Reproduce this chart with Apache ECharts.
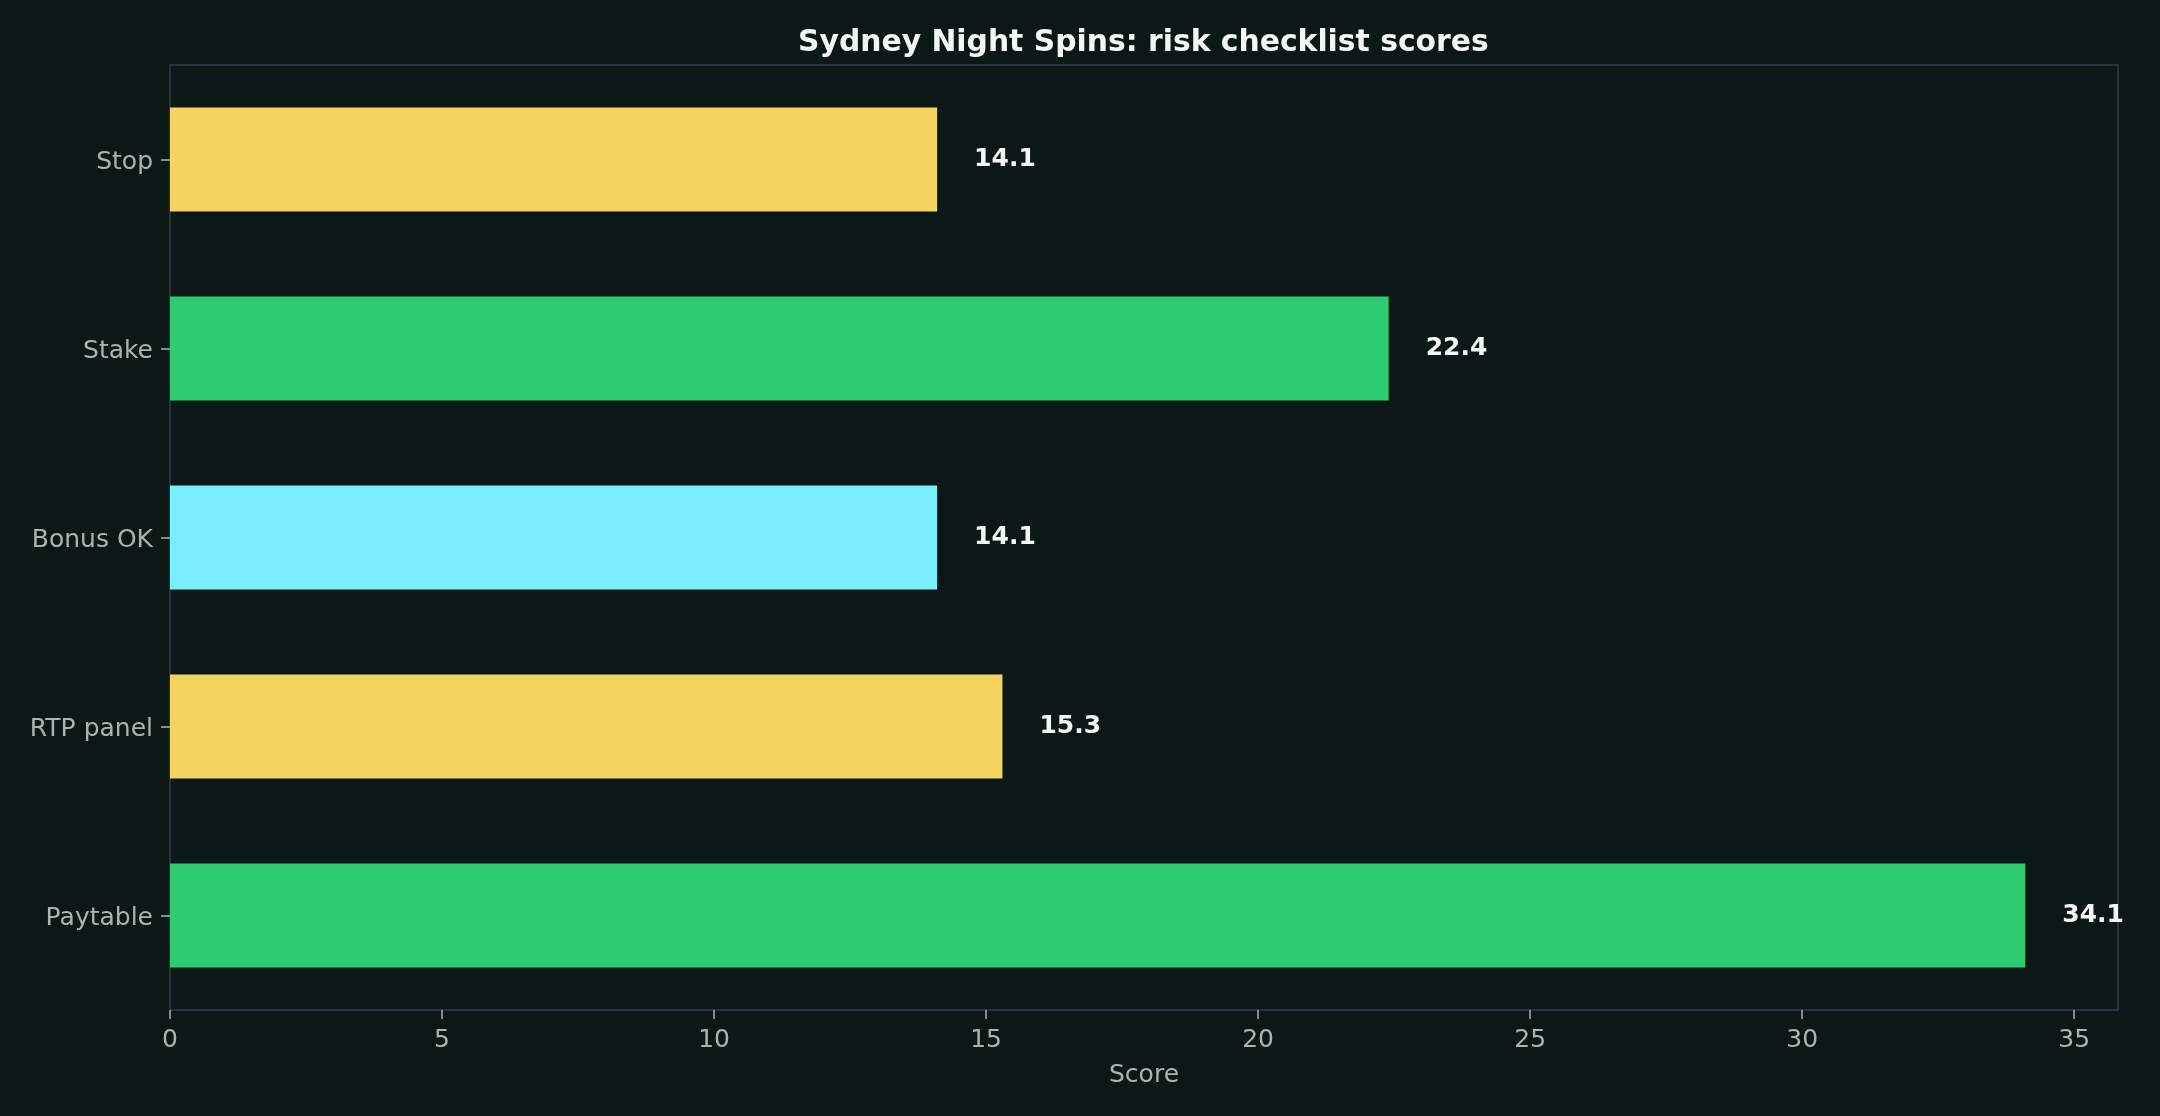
<!DOCTYPE html>
<html>
<head>
<meta charset="utf-8">
<script src="https://cdn.jsdelivr.net/npm/echarts@6/dist/echarts.min.js"></script>
<style>
html,body{margin:0;padding:0;background:#0c1816;}
#chart{width:2160px;height:1116px;}
</style>
</head>
<body>
<div id="chart"></div>
<script>
const categories = ['Paytable', 'RTP panel', 'Bonus OK', 'Stake', 'Stop'];
const scores = [34.1, 15.3, 14.1, 22.4, 14.1];
const barColors = ['#2ecc71', '#f4d35e', '#7aeeff', '#2ecc71', '#f4d35e'];
const xTicks = [0, 5, 10, 15, 20, 25, 30, 35];

const chart = echarts.init(document.getElementById('chart'), null, {renderer: 'canvas'});
const FONT = 'DejaVu Sans';
const LABEL = '#a7b5ae';
const SPINE = '#283142';

chart.setOption({
  backgroundColor: '#0c1816',
  animation: false,
  title: {
    text: 'Sydney Night Spins: risk checklist scores',
    left: 793,
    top: 23,
    textStyle: {color: '#f2f7f5', fontFamily: FONT, fontWeight: 'bold', fontSize: 29.8}
  },
  grid: {
    left: 170, right: 42, top: 65, bottom: 106,
    show: true, borderColor: SPINE, borderWidth: 2, backgroundColor: 'transparent',
    containLabel: false
  },
  xAxis: {
    type: 'value',
    min: 0,
    max: 35.805,
    interval: 5,
    name: 'Score',
    nameLocation: 'middle',
    nameGap: 53,
    nameTextStyle: {color: LABEL, fontFamily: FONT, fontSize: 25},
    axisLine: {show: true, lineStyle: {color: SPINE, width: 2}},
    axisTick: {show: true, length: 9, lineStyle: {color: LABEL, width: 1.5}, customValues: xTicks},
    axisLabel: {color: LABEL, fontFamily: FONT, fontSize: 25, margin: 18, customValues: xTicks},
    splitLine: {show: false}
  },
  yAxis: {
    type: 'category',
    data: categories,
    axisLine: {show: true, lineStyle: {color: SPINE, width: 2}},
    axisTick: {show: true, length: 9, alignWithLabel: true, lineStyle: {color: LABEL, width: 1.5}},
    axisLabel: {
      margin: 17,
      formatter: v => '{a|' + v + '}',
      rich: {a: {color: LABEL, fontFamily: FONT, fontSize: 25, padding: [5, 0, 0, 0]}}
    },
    splitLine: {show: false}
  },
  series: [{
    type: 'bar',
    barWidth: 104,
    data: scores.map((v, i) => ({value: v, itemStyle: {color: barColors[i]}})),
    label: {
      show: true,
      position: 'right',
      distance: 37,
      color: '#f2f7f5',
      fontFamily: FONT,
      fontWeight: 'bold',
      fontSize: 25,
      formatter: p => p.value.toFixed(1)
    }
  }]
});
</script>
</body>
</html>
